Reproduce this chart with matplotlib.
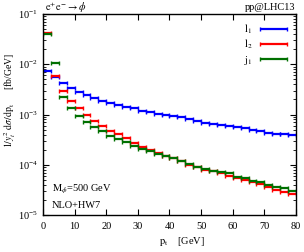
import numpy as np
import matplotlib
matplotlib.use('Agg')
from matplotlib import pyplot as plt
from matplotlib.legend_handler import HandlerErrorbar

plt.rcParams['font.family'] = 'Liberation Serif'
plt.rcParams['mathtext.fontset'] = 'stix'

# bin edges: 2.5 GeV bins from 0 to 80
bin_lo = np.arange(0, 80, 2.5)
bin_w = 2.5

# (fb/GeV, scaled by 1/y_t^2)
l1 = [7.34e-3, 5.57e-3, 4.29e-3, 3.37e-3, 2.77e-3, 2.39e-3, 2.13e-3, 1.90e-3,
      1.67e-3, 1.55e-3, 1.43e-3, 1.33e-3, 1.19e-3, 1.12e-3, 1.04e-3, 9.9e-4,
      9.33e-4, 8.79e-4, 8.13e-4, 7.43e-4, 6.87e-4, 6.47e-4, 6.18e-4, 6.04e-4,
      5.72e-4, 5.31e-4, 4.92e-4, 4.63e-4, 4.35e-4, 4.15e-4, 4.04e-4, 3.91e-4]
l2 = [4.19e-2, 5.83e-3, 2.94e-3, 1.86e-3, 1.33e-3, 9.77e-4, 7.43e-4, 5.98e-4,
      4.76e-4, 4.04e-4, 3.36e-4, 2.75e-4, 2.29e-4, 1.97e-4, 1.74e-4, 1.51e-4,
      1.34e-4, 1.19e-4, 1.01e-4, 9.02e-5, 8.04e-5, 7.51e-5, 6.70e-5, 6.11e-5,
      5.52e-5, 5.04e-5, 4.48e-5, 4.08e-5, 3.56e-5, 3.15e-5, 2.91e-5, 2.62e-5]
j1 = [4.00e-2, 1.07e-2, 2.23e-3, 1.33e-3, 9.46e-4, 7.00e-4, 5.72e-4, 4.63e-4,
      3.79e-4, 3.25e-4, 2.80e-4, 2.39e-4, 2.06e-4, 1.88e-4, 1.61e-4, 1.46e-4,
      1.34e-4, 1.19e-4, 1.04e-4, 9.14e-5, 8.23e-5, 7.62e-5, 7.02e-5, 6.76e-5,
      5.78e-5, 5.37e-5, 4.75e-5, 4.48e-5, 3.90e-5, 3.56e-5, 3.44e-5, 3.05e-5]

fig = plt.figure(figsize=(3.04, 2.52), dpi=100)
ax = fig.add_axes([0.1414, 0.1468, 0.8323, 0.7976])

xc = bin_lo + bin_w / 2
for vals, col, lab in [(l1, 'blue', '$\\mathrm{l}_1$'),
                       (l2, 'red', '$\\mathrm{l}_2$'),
                       (j1, '#007000', '$\\mathrm{j}_1$')]:
    ax.errorbar(xc, vals, xerr=bin_w / 2, fmt='none', ecolor=col,
                elinewidth=1.6, capsize=1.2, capthick=1.0, label=lab)

ax.set_yscale('log')
ax.set_xlim(0, 80)
ax.set_ylim(1e-5, 1e-1)
ax.set_xticks(np.arange(0, 81, 10))
ax.tick_params(which='both', direction='in', top=True, right=True, labelsize=7.5)
ax.tick_params(which='major', length=4, width=0.8)
ax.tick_params(which='minor', length=2, width=0.6)
ax.tick_params(axis='x', pad=5)
for s in ax.spines.values():
    s.set_linewidth(1.0)

ax.set_xlabel('$\\mathrm{p_t}$    [GeV]', fontsize=7.5)
ax.xaxis.set_label_coords(0.55, -0.1)
ax.set_ylabel('$1/y_t^2\\ \\mathrm{d}\\sigma/\\mathrm{dp_t}$      [fb/GeV]', fontsize=7)
ax.yaxis.set_label_coords(-0.1, 0.57)

fig.text(0.148, 0.97, '$\\mathrm{e^{+}e^{-}}\\rightarrow\\phi$', fontsize=7.5, va='center', ha='left')
fig.text(0.973, 0.97, 'pp@LHC13', fontsize=7.5, va='center', ha='right')
ax.text(0.035, 0.115, '$\\mathrm{M}_{\\phi}$=500 GeV', transform=ax.transAxes, fontsize=7.5)
ax.text(0.035, 0.035, 'NLO+HW7', transform=ax.transAxes, fontsize=7.5)

leg = ax.legend(loc='upper right', frameon=False, fontsize=7.5, handlelength=2.8,
                markerfirst=False, labelspacing=0.2, borderaxespad=0.4,
                handletextpad=0.6,
                handler_map={matplotlib.container.ErrorbarContainer: HandlerErrorbar(xerr_size=1.3)})

fig.savefig('out.png', dpi=100)
